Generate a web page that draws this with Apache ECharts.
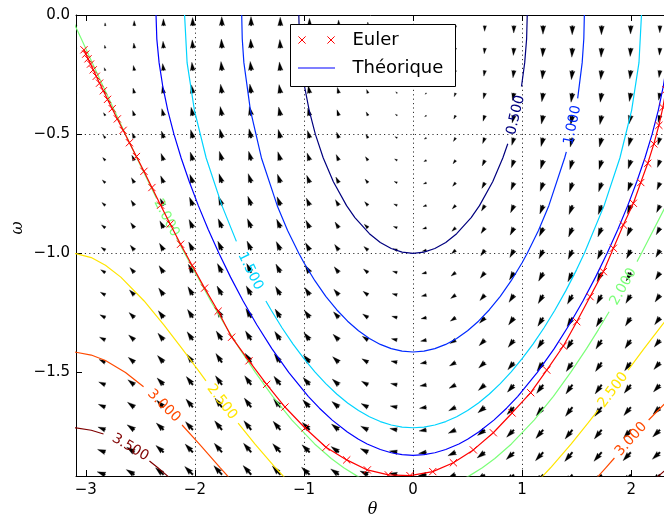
<!DOCTYPE html>
<html><head><meta charset="utf-8">
<script src="https://cdn.jsdelivr.net/npm/echarts@6.0.0/dist/echarts.min.js"></script>
<style>html,body{margin:0;padding:0;background:#fff}#c{width:664px;height:521px}</style>
</head><body><div id="c"></div>
<script>
// ================= DATA =================
const thetaTicks = [-3, -2, -1, 0, 1, 2];
const omegaTicks = [0, -0.5, -1, -1.5];

// quiver grid: column positions (theta), row positions (omega)
const quiverTheta = [-3.090, -2.822, -2.555, -2.287, -2.019, -1.752, -1.484, -1.216, -0.948, -0.681, -0.413, -0.146, 0.122, 0.390, 0.658, 0.925, 1.193, 1.461, 1.729, 1.996, 2.264];
const quiverOmega = [-0.045, -0.139, -0.233, -0.328, -0.422, -0.516, -0.610, -0.704, -0.799, -0.893, -0.987, -1.081, -1.175, -1.270, -1.364, -1.458, -1.552, -1.646, -1.741, -1.835, -1.929];
// horizontal arrow component (one per row) and vertical arrow component (one per column)
const quiverRowDTheta = [-0.045, -0.139, -0.233, -0.328, -0.422, -0.516, -0.610, -0.704, -0.799, -0.893, -0.987, -1.081, -1.175, -1.270, -1.364, -1.458, -1.552, -1.646, -1.741, -1.835, -1.929];
const quiverColDOmega = [0.052, 0.314, 0.554, 0.754, 0.901, 0.984, 0.996, 0.937, 0.812, 0.630, 0.401, 0.146, -0.122, -0.380, -0.612, -0.799, -0.930, -0.994, -0.988, -0.911, -0.769];

// contour levels and their paths ('-' = gap left for the inline label)
const contourLevels = [0.5, 1.0, 1.5, 2.0, 2.5, 3.0, 3.5];
const contour05 = [[-1.0472,0],[-1.0414,-0.1],[-1.0239,-0.2],[-0.9944,-0.3],[-0.9521,-0.4],[-0.8957,-0.5],[-0.8230,-0.6],[-0.7303,-0.7],[-0.6093,-0.8],[-0.5331,-0.85],[-0.4,-0.9177],[-0.3,-0.9543],[-0.2,-0.9799],[-0.1,-0.995],[0,-1],[0.1,-0.995],[0.2,-0.9799],[0.3,-0.9543],[0.4,-0.9177],[0.5331,-0.85],[0.6093,-0.8],[0.7303,-0.7],[0.8230,-0.6],[0.8687,-0.54],'-',[0.9944,-0.3],[1.0239,-0.2],[1.0414,-0.1],[1.0472,0]];
const contour10 = [[-1.5708,0],[-1.5658,-0.1],[-1.5508,-0.2],[-1.4907,-0.4],[-1.3898,-0.6],[-1.2451,-0.8],[-1.15,-0.9039],[-1.0472,-1.0],[-1.0,-1.0395],[-0.9,-1.115],[-0.8,-1.1804],[-0.7,-1.2368],[-0.6,-1.2848],[-0.5,-1.3248],[-0.4,-1.3573],[-0.3,-1.3823],[-0.2,-1.4001],[-0.1,-1.4107],[0,-1.4142],[0.1,-1.4107],[0.2,-1.4001],[0.3,-1.3823],[0.4,-1.3573],[0.5,-1.3248],[0.6,-1.2848],[0.7,-1.2368],[0.8,-1.1804],[0.9,-1.115],[1.0,-1.0395],[1.0472,-1.0],[1.15,-0.9039],[1.2451,-0.8],[1.3898,-0.6],[1.4054,-0.574],'-',[1.5095,-0.35],[1.5508,-0.2],[1.5658,-0.1],[1.5708,0]];
const contour15 = [[-2.0944,0],[-2.0715,-0.2],[-2.0042,-0.4],[-1.8965,-0.6],[-1.7518,-0.8],[-1.6196,-0.95],'-',[-1.349,-1.2],[-1.3,-1.239],[-1.2,-1.3133],[-1.1,-1.381],[-1.0,-1.4424],[-0.9,-1.4977],[-0.8,-1.5471],[-0.7,-1.5905],[-0.6,-1.6281],[-0.5,-1.6599],[-0.4,-1.6859],[-0.3,-1.7061],[-0.2,-1.7205],[-0.1,-1.7292],[0,-1.7321],[0.1,-1.7292],[0.2,-1.7205],[0.3,-1.7061],[0.4,-1.6859],[0.5,-1.6599],[0.6,-1.6281],[0.7,-1.5905],[0.8,-1.5471],[0.9,-1.4977],[1.0,-1.4424],[1.1,-1.381],[1.2,-1.3133],[1.3,-1.239],[1.4,-1.1576],[1.5,-1.0684],[1.5708,-1.0],[1.7518,-0.8],[1.8965,-0.6],[2.0042,-0.4],[2.0715,-0.2],[2.0944,0]];
const contour20L = [[-3.1416,0],[-3.09,-0.052],[-3.0416,-0.1],[-2.9413,-0.2],[-2.8404,-0.3],[-2.7389,-0.4],[-2.6362,-0.5],[-2.5323,-0.6],[-2.3512,-0.77],'-',[-2.1687,-0.935],[-2.0944,-1.0],[-1.8546,-1.2],[-1.7264,-1.3],[-1.5908,-1.4],[-1.4455,-1.5],[-1.287,-1.6],[-1.1102,-1.7],[-0.9021,-1.8],[-0.75,-1.861],[-0.6354,-1.9],[-0.5155,-1.934],[-0.4,-1.96]];
const contour20R = [[0.4,-1.96],[0.5155,-1.934],[0.6354,-1.9],[0.75,-1.861],[0.9021,-1.8],[1.1102,-1.7],[1.287,-1.6],[1.4455,-1.5],[1.5908,-1.4],[1.70,-1.32],[1.7978,-1.245],'-',[2.0537,-1.035],[2.0944,-1.0],[2.3186,-0.8],[2.5323,-0.6]];
const contour25L = [[-3.1416,-1.0],[-3.09,-1.0013],[-2.95,-1.018],[-2.8202,-1.05],[-2.6791,-1.1],[-2.4655,-1.2],[-2.2849,-1.3],[-2.1177,-1.4],[-1.9552,-1.5],[-1.8985,-1.535],'-',[-1.6036,-1.713],[-1.4505,-1.8],[-1.2608,-1.9],[-1.1916,-1.934],[-1.1,-1.977]];
const contour25R = [[1.1,-1.977],[1.1916,-1.934],[1.2608,-1.9],[1.4505,-1.8],[1.6036,-1.713],[1.6966,-1.658],'-',[1.9715,-1.49],[2.1177,-1.4],[2.2849,-1.3],[2.4655,-1.2]];
const contour30L = [[-3.1416,-1.4142],[-3.09,-1.4152],[-2.95,-1.427],[-2.8202,-1.45],[-2.6362,-1.5],[-2.4706,-1.56],'-',[-2.1177,-1.7205],[-1.9605,-1.8],[-1.7671,-1.9],[-1.701,-1.934],[-1.6,-1.985]];
const contour30R = [[1.6,-1.985],[1.701,-1.934],[1.7671,-1.9],[1.8464,-1.859],'-',[2.1603,-1.6996],[2.3746,-1.6]];
const contour35L = [[-3.1416,-1.7321],[-3.09,-1.7328],[-2.95,-1.7425],[-2.8377,-1.7583],'-',[-2.4166,-1.8716],[-2.3392,-1.9],[-2.2521,-1.934],[-2.2,-1.955]];
const contour35R = [[2.2,-1.955],[2.2521,-1.934],[2.3392,-1.9]];

// inline contour labels: text, level index, centre, and the two ends of the gap
const contourLabelTexts = ['0.500','1.000','1.500','2.000','2.000','2.500','2.500','3.000','3.000','3.500'];
const contourLabelLevel = [0, 1, 2, 3, 3, 4, 4, 5, 5, 6];
const contourLabelSpots = [
  [0.942,-0.42, 0.8687,-0.54, 0.9944,-0.30],
  [1.4639,-0.462, 1.4054,-0.574, 1.5095,-0.35],
  [-1.4929,-1.075, -1.6196,-0.95, -1.349,-1.2],
  [-2.2613,-0.852, -2.3512,-0.77, -2.1687,-0.935],
  [1.9287,-1.14, 1.7978,-1.245, 2.0537,-1.035],
  [-1.7531,-1.624, -1.8985,-1.535, -1.6036,-1.713],
  [1.835,-1.574, 1.6966,-1.658, 1.9715,-1.49],
  [-2.2848,-1.64, -2.4706,-1.56, -2.1177,-1.7205],
  [1.9996,-1.78, 1.8464,-1.859, 2.1603,-1.6996],
  [-2.5924,-1.815, -2.8377,-1.7583, -2.4166,-1.8716]
];

// "Théorique" curve (right half, theta >= 0); the left half is its mirror
const theoryHalf = [[2.3562,0],[2.3492,-0.1],[2.3283,-0.2],[2.2943,-0.3],[2.2486,-0.4],[2.1921,-0.5],[2.1259,-0.6],[2.0511,-0.7],[1.9683,-0.8],[1.8777,-0.9],[1.7794,-1.0],[1.6731,-1.1],[1.5579,-1.2],[1.4325,-1.3],[1.2944,-1.4],[1.1397,-1.5],[0.9607,-1.6],[0.8579,-1.65],[0.7409,-1.7],[0.6021,-1.75],[0.5,-1.7803],[0.4205,-1.8],[0.3,-1.8234],[0.2,-1.8369],[0.1,-1.8451],[0,-1.8478]];

// Euler points (theta, omega)
const eulerPoints = [[2.361,-0.030],[2.361,-0.101],[2.354,-0.171],[2.340,-0.242],[2.319,-0.314],[2.291,-0.388],[2.254,-0.463],[2.208,-0.541],[2.152,-0.622],[2.088,-0.703],[2.020,-0.790],[1.928,-0.881],[1.837,-0.979],[1.745,-1.077],[1.623,-1.182],[1.501,-1.287],[1.378,-1.389],[1.226,-1.490],[1.079,-1.585],[0.908,-1.670],[0.736,-1.753],[0.553,-1.825],[0.370,-1.879],[0.181,-1.916],[-0.028,-1.933],[-0.226,-1.930],[-0.419,-1.909],[-0.608,-1.867],[-0.798,-1.814],[-0.990,-1.733],[-1.174,-1.645],[-1.342,-1.550],[-1.504,-1.451],[-1.663,-1.352],[-1.787,-1.243],[-1.911,-1.146],[-2.025,-1.051],[-2.131,-0.962],[-2.227,-0.877],[-2.314,-0.798],[-2.394,-0.724],[-2.467,-0.656],[-2.536,-0.594],[-2.600,-0.536],[-2.658,-0.484],[-2.711,-0.436],[-2.758,-0.393],[-2.801,-0.354],[-2.839,-0.318],[-2.874,-0.286],[-2.904,-0.257],[-2.932,-0.230],[-2.957,-0.206],[-2.980,-0.184],[-3.000,-0.164],[-3.017,-0.146]];

// ================= STYLE / LAYOUT =================
const X_MIN = -3.09, X_MAX = 2.356, Y_MIN = -1.9345, Y_MAX = 0;
const CONTOUR_COLORS = ['#00007f', '#002aff', '#00d4ff', '#7cff79', '#ffe500', '#ff4a00', '#7f0000'];
const ARROW_SCALE = 26;   // data-units divisor for arrow length
const ARROW_WIDTH = 1.75; // px shaft width
const FONT = 'DejaVu Sans';
const MINUS = '\u2212';

function fmt(v, d) {
  if (Math.abs(v) < 1e-9) v = 0;
  return (v < 0 ? MINUS : '') + Math.abs(v).toFixed(d);
}

// quiver table
const quiverData = [];
quiverOmega.forEach((om, j) => {
  quiverTheta.forEach((th, i) => {
    quiverData.push([th, om, quiverRowDTheta[j], quiverColDOmega[i]]);
  });
});

function renderArrow(params, api) {
  const th = api.value(0), om = api.value(1), u = api.value(2), v = api.value(3);
  const p0 = api.coord([th, om]);
  const p1 = api.coord([th + u / ARROW_SCALE, om + v / ARROW_SCALE]);
  const dx = p1[0] - p0[0], dy = p1[1] - p0[1];
  const Lpx = Math.hypot(dx, dy);
  const W = ARROW_WIDTH;
  const L = Lpx / W;
  let pts;
  if (L < 1) {
    pts = [];
    for (let k = 0; k < 6; k++) { const a = k * Math.PI / 3; pts.push([0.5 * Math.cos(a), 0.5 * Math.sin(a)]); }
  } else if (L < 5) {
    const s = L / 5;
    pts = [[0, 0.5*s], [0.5*s, 0.5*s], [0, 1.5*s], [5*s, 0], [0, -1.5*s], [0.5*s, -0.5*s], [0, -0.5*s]];
  } else {
    pts = [[0, 0.5], [L-4.5, 0.5], [L-5, 1.5], [L, 0], [L-5, -1.5], [L-4.5, -0.5], [0, -0.5]];
  }
  const c = Lpx > 0 ? dx / Lpx : 1, sn = Lpx > 0 ? dy / Lpx : 0;
  const points = pts.map(([a, b]) => [p0[0] + W * (a * c - b * sn), p0[1] + W * (a * sn + b * c)]);
  return { type: 'polygon', shape: { points }, style: { fill: '#000', stroke: '#000', lineWidth: 0.3 } };
}

function renderLabel(params, api) {
  const i = params.dataIndex;
  const s = contourLabelSpots[i];
  const c = api.coord([s[0], s[1]]);
  const a = api.coord([s[2], s[3]]), b = api.coord([s[4], s[5]]);
  let ang = Math.atan2(-(b[1] - a[1]), b[0] - a[0]);
  if (ang > Math.PI / 2) ang -= Math.PI;
  if (ang < -Math.PI / 2) ang += Math.PI;
  return {
    type: 'text', x: c[0], y: c[1], rotation: ang,
    style: { text: contourLabelTexts[i], fill: CONTOUR_COLORS[contourLabelLevel[i]],
             fontSize: 14, fontFamily: FONT, align: 'center', verticalAlign: 'middle' }
  };
}

function renderCross(params, api) {
  const p = api.coord([api.value(0), api.value(1)]);
  const h = 3.6;
  return {
    type: 'group', children: [
      { type: 'line', shape: { x1: p[0]-h, y1: p[1]-h, x2: p[0]+h, y2: p[1]+h }, style: { stroke: '#ff0000', lineWidth: 1 } },
      { type: 'line', shape: { x1: p[0]-h, y1: p[1]+h, x2: p[0]+h, y2: p[1]-h }, style: { stroke: '#ff0000', lineWidth: 1 } }
    ]
  };
}

const contourPaths = [
  [contour05, 0], [contour10, 1], [contour15, 2], [contour20L, 3], [contour20R, 3],
  [contour25L, 4], [contour25R, 4], [contour30L, 5], [contour30R, 5], [contour35L, 6], [contour35R, 6]
];

const theoryPath = theoryHalf.concat(theoryHalf.slice(0, -1).reverse().map(p => [-p[0], p[1]]));

const dotted = { color: '#000', width: 0.8, type: [1.2, 3.2] };

const series = [];
series.push({
  type: 'custom', name: 'quiver', renderItem: renderArrow, data: quiverData,
  dimensions: ['theta', 'omega', 'u', 'v'], encode: { x: 0, y: 1 },
  clip: true, silent: true, z: 2
});
contourPaths.forEach(([path, lev]) => {
  series.push({
    type: 'line', data: path, showSymbol: false, symbol: 'none', clip: true, silent: true,
    connectNulls: false, lineStyle: { color: CONTOUR_COLORS[lev], width: 1.2 }, z: 3
  });
});
series.push({
  type: 'custom', name: 'labels', renderItem: renderLabel,
  data: contourLabelSpots.map(s => [s[0], s[1]]), encode: { x: 0, y: 1 }, clip: false, silent: true, z: 4
});
series.push({
  type: 'line', name: 'Théorique', data: theoryPath, showSymbol: false, symbol: 'none', clip: true,
  silent: true, lineStyle: { color: '#0000ff', width: 1.2 }, z: 5
});
series.push({
  type: 'line', name: 'Euler', data: eulerPoints, showSymbol: false, symbol: 'none', clip: true,
  silent: true, lineStyle: { color: '#ff0000', width: 1.2 }, z: 6
});
series.push({
  type: 'custom', name: 'EulerMarks', renderItem: renderCross, data: eulerPoints,
  encode: { x: 0, y: 1 }, clip: true, silent: true, z: 7
});

const axisCommon = {
  type: 'value', min: X_MIN, max: X_MAX,
  axisLine: { show: true, onZero: false, lineStyle: { color: '#000', width: 1 } },
  axisTick: { show: true, inside: true, length: 6, lineStyle: { color: '#000', width: 1 }, customValues: thetaTicks }
};

const option = {
  animation: false,
  backgroundColor: '#fff',
  textStyle: { fontFamily: FONT },
  grid: { left: 76, right: -6, top: 15, bottom: 45, containLabel: false, outerBoundsMode: 'none' },
  xAxis: [
    Object.assign({}, axisCommon, {
      position: 'bottom', splitNumber: 5,
      axisLabel: { show: true, customValues: thetaTicks, formatter: v => fmt(v, 0), color: '#000',
                   fontSize: 15, fontFamily: FONT, margin: 7 },
      splitLine: { show: true, lineStyle: dotted, showMinLine: false, showMaxLine: false }
    }),
    Object.assign({}, axisCommon, {
      position: 'top', splitNumber: 5,
      axisLabel: { show: false }, splitLine: { show: false }
    })
  ],
  yAxis: {
    type: 'value', min: Y_MIN, max: Y_MAX, splitNumber: 4,
    axisLine: { show: true, onZero: false, lineStyle: { color: '#000', width: 1 } },
    axisTick: { show: true, inside: true, length: 6, lineStyle: { color: '#000', width: 1 }, customValues: omegaTicks },
    axisLabel: { show: true, customValues: omegaTicks, formatter: v => fmt(v, 1), color: '#000',
                 fontSize: 15, fontFamily: FONT, margin: 6 },
    splitLine: { show: true, lineStyle: dotted, showMinLine: false, showMaxLine: false }
  },
  series: series,
  graphic: [
    { type: 'rect', z: 100, shape: { x: 290.5, y: 24.5, width: 165, height: 62 }, style: { fill: '#fff', stroke: '#000', lineWidth: 1 } },
    { type: 'line', z: 101, shape: { x1: 298.4, y1: 36.4, x2: 305.6, y2: 43.6 }, style: { stroke: '#ff0000', lineWidth: 1 } },
    { type: 'line', z: 101, shape: { x1: 298.4, y1: 43.6, x2: 305.6, y2: 36.4 }, style: { stroke: '#ff0000', lineWidth: 1 } },
    { type: 'line', z: 101, shape: { x1: 327.4, y1: 36.4, x2: 334.6, y2: 43.6 }, style: { stroke: '#ff0000', lineWidth: 1 } },
    { type: 'line', z: 101, shape: { x1: 327.4, y1: 43.6, x2: 334.6, y2: 36.4 }, style: { stroke: '#ff0000', lineWidth: 1 } },
    { type: 'text', z: 101, x: 352.5, y: 40, style: { text: 'Euler', fontSize: 18, fontFamily: FONT, fill: '#000', verticalAlign: 'middle' } },
    { type: 'line', z: 101, shape: { x1: 298, y1: 68, x2: 335, y2: 68 }, style: { stroke: '#0000ff', lineWidth: 1.2 } },
    { type: 'text', z: 101, x: 352.5, y: 68, style: { text: 'Théorique', fontSize: 18, fontFamily: FONT, fill: '#000', verticalAlign: 'middle' } },
    { type: 'text', z: 101, x: 372.5, y: 510, style: { text: 'θ', fontSize: 16, fontStyle: 'italic', fontFamily: 'DejaVu Serif', fill: '#000', align: 'center', verticalAlign: 'middle' } },
    { type: 'text', z: 101, x: 18, y: 228, rotation: Math.PI / 2, style: { text: 'ω', fontSize: 16, fontStyle: 'italic', fontFamily: 'DejaVu Serif', fill: '#000', align: 'center', verticalAlign: 'middle' } }
  ]
};

const chart = echarts.init(document.getElementById('c'), null, { renderer: 'canvas', width: 664, height: 521 });
chart.setOption(option);
</script></body></html>
